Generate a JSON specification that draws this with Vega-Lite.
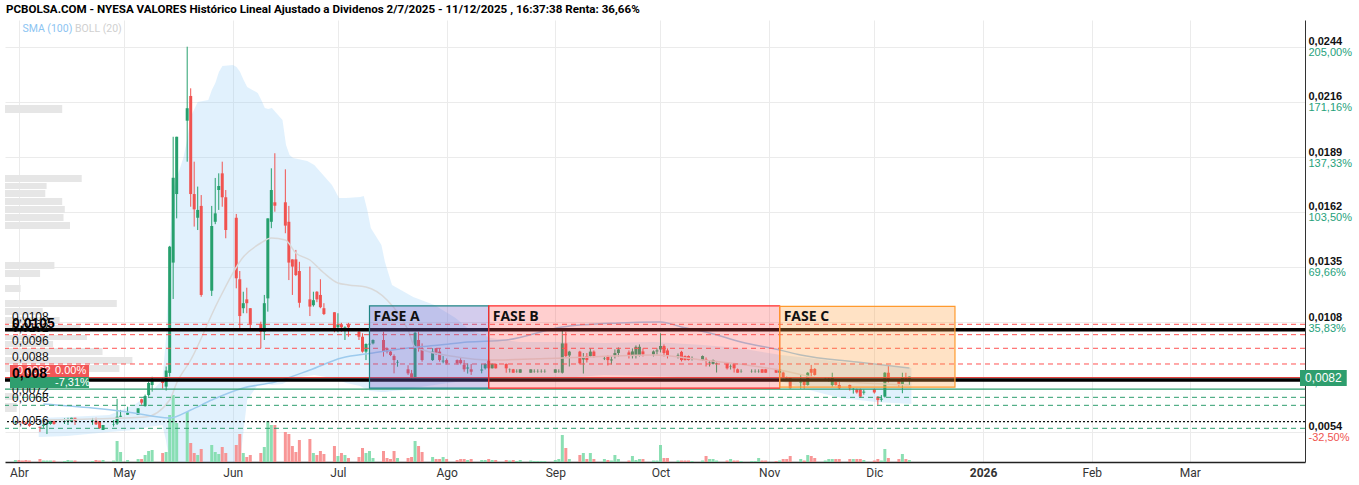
{
"$schema": "https://vega.github.io/schema/vega-lite/v6.json",
"width": 1300, "height": 442,
"autosize": {"type": "none"},
"padding": {"left": 5, "top": 20, "right": 54, "bottom": 23},
"background": "white",
"title": {"text": "PCBOLSA.COM - NYESA VALORES Histórico Lineal Ajustado a Dividenos 2/7/2025 - 11/12/2025 , 16:37:38 Renta: 36,66%", "anchor": "start", "frame": "group", "offset": 4, "fontSize": 11.6, "fontWeight": "bold", "font": "Roboto", "color": "#000", "dx": 1},
"config": {"view": {"stroke": null}},
"datasets": {
"candles": [
{"d":"2025-03-31","o":0.00592,"h":0.006,"l":0.00585,"c":0.00595,"v":200},
{"d":"2025-04-01","o":0.00595,"h":0.006,"l":0.00588,"c":0.00592,"v":200},
{"d":"2025-04-02","o":0.00592,"h":0.00598,"l":0.00585,"c":0.0059,"v":150},
{"d":"2025-04-03","o":0.0059,"h":0.00596,"l":0.0058,"c":0.00585,"v":200},
{"d":"2025-04-04","o":0.00585,"h":0.0059,"l":0.0057,"c":0.00575,"v":150},
{"d":"2025-04-07","o":0.0057,"h":0.0057,"l":0.00545,"c":0.00565,"v":300},
{"d":"2025-04-08","o":0.00575,"h":0.00585,"l":0.00565,"c":0.0058,"v":150},
{"d":"2025-04-09","o":0.00585,"h":0.00592,"l":0.00534,"c":0.0059,"v":150},
{"d":"2025-04-10","o":0.00584,"h":0.006,"l":0.0058,"c":0.00599,"v":150},
{"d":"2025-04-11","o":0.00599,"h":0.006,"l":0.0058,"c":0.00584,"v":150},
{"d":"2025-04-14","o":0.00595,"h":0.00612,"l":0.00584,"c":0.00599,"v":100},
{"d":"2025-04-15","o":0.00599,"h":0.00615,"l":0.00579,"c":0.00604,"v":200},
{"d":"2025-04-16","o":0.00595,"h":0.00615,"l":0.00595,"c":0.00615,"v":150},
{"d":"2025-04-17","o":0.00615,"h":0.00615,"l":0.00579,"c":0.006,"v":150},
{"d":"2025-04-22","o":0.006,"h":0.00614,"l":0.0058,"c":0.00603,"v":100},
{"d":"2025-04-23","o":0.006,"h":0.00615,"l":0.00579,"c":0.00582,"v":200},
{"d":"2025-04-24","o":0.00599,"h":0.00599,"l":0.0056,"c":0.00563,"v":150},
{"d":"2025-04-25","o":0.00554,"h":0.00579,"l":0.00554,"c":0.00579,"v":200},
{"d":"2025-04-28","o":0.0058,"h":0.00604,"l":0.00571,"c":0.00582,"v":150},
{"d":"2025-04-29","o":0.00586,"h":0.00709,"l":0.00579,"c":0.0062,"v":2100},
{"d":"2025-04-30","o":0.0062,"h":0.00654,"l":0.00618,"c":0.00625,"v":1000},
{"d":"2025-05-02","o":0.0063,"h":0.0067,"l":0.00629,"c":0.0064,"v":200},
{"d":"2025-05-05","o":0.00629,"h":0.00662,"l":0.00629,"c":0.00662,"v":300},
{"d":"2025-05-06","o":0.00707,"h":0.0071,"l":0.0068,"c":0.0069,"v":300},
{"d":"2025-05-07","o":0.00673,"h":0.0073,"l":0.0067,"c":0.00723,"v":700},
{"d":"2025-05-08","o":0.00728,"h":0.00795,"l":0.0072,"c":0.00788,"v":1100},
{"d":"2025-05-09","o":0.00778,"h":0.00819,"l":0.00745,"c":0.00798,"v":1200},
{"d":"2025-05-12","o":0.00803,"h":0.0081,"l":0.0076,"c":0.00788,"v":900},
{"d":"2025-05-13","o":0.0077,"h":0.0087,"l":0.0075,"c":0.0085,"v":1000},
{"d":"2025-05-14","o":0.00838,"h":0.0147,"l":0.0082,"c":0.01466,"v":4700},
{"d":"2025-05-15","o":0.01387,"h":0.02013,"l":0.01206,"c":0.01809,"v":6700},
{"d":"2025-05-16","o":0.01728,"h":0.02013,"l":0.01607,"c":0.02013,"v":3900},
{"d":"2025-05-19","o":0.02093,"h":0.02461,"l":0.01889,"c":0.02155,"v":5000},
{"d":"2025-05-20","o":0.02216,"h":0.02254,"l":0.01665,"c":0.01728,"v":1900},
{"d":"2025-05-21","o":0.01728,"h":0.01889,"l":0.01566,"c":0.01652,"v":900},
{"d":"2025-05-22","o":0.0161,"h":0.01765,"l":0.01549,"c":0.01649,"v":700},
{"d":"2025-05-23","o":0.01669,"h":0.01723,"l":0.01217,"c":0.01226,"v":1300},
{"d":"2025-05-26","o":0.01247,"h":0.01669,"l":0.01221,"c":0.01569,"v":1700},
{"d":"2025-05-27","o":0.0159,"h":0.01808,"l":0.01578,"c":0.01632,"v":1000},
{"d":"2025-05-28","o":0.01748,"h":0.01831,"l":0.01649,"c":0.01768,"v":800},
{"d":"2025-05-29","o":0.01831,"h":0.01889,"l":0.01665,"c":0.01712,"v":1500},
{"d":"2025-05-30","o":0.01712,"h":0.01748,"l":0.01508,"c":0.01549,"v":900},
{"d":"2025-06-02","o":0.0161,"h":0.01629,"l":0.01259,"c":0.01309,"v":1700},
{"d":"2025-06-03","o":0.01304,"h":0.01345,"l":0.01052,"c":0.01121,"v":2800},
{"d":"2025-06-04","o":0.0116,"h":0.01242,"l":0.01135,"c":0.01185,"v":900},
{"d":"2025-06-05","o":0.01204,"h":0.01262,"l":0.01135,"c":0.01185,"v":500},
{"d":"2025-06-06","o":0.0116,"h":0.0116,"l":0.01052,"c":0.01082,"v":700},
{"d":"2025-06-09","o":0.01082,"h":0.01093,"l":0.00961,"c":0.01043,"v":900},
{"d":"2025-06-10","o":0.01043,"h":0.01226,"l":0.01002,"c":0.01185,"v":1500},
{"d":"2025-06-11","o":0.01209,"h":0.01607,"l":0.01143,"c":0.01607,"v":4100},
{"d":"2025-06-12","o":0.0159,"h":0.01856,"l":0.01558,"c":0.01748,"v":3700},
{"d":"2025-06-13","o":0.01687,"h":0.01931,"l":0.0164,"c":0.0167,"v":3700},
{"d":"2025-06-16","o":0.01687,"h":0.01851,"l":0.01533,"c":0.01571,"v":3000},
{"d":"2025-06-17","o":0.0159,"h":0.01669,"l":0.013,"c":0.01387,"v":2800},
{"d":"2025-06-18","o":0.01403,"h":0.01403,"l":0.01226,"c":0.01367,"v":1600},
{"d":"2025-06-19","o":0.01403,"h":0.0145,"l":0.0132,"c":0.01325,"v":1000},
{"d":"2025-06-20","o":0.01345,"h":0.01391,"l":0.01163,"c":0.01187,"v":2200},
{"d":"2025-06-23","o":0.01204,"h":0.01367,"l":0.01121,"c":0.01168,"v":2300},
{"d":"2025-06-24","o":0.01175,"h":0.01242,"l":0.01168,"c":0.012,"v":900},
{"d":"2025-06-25","o":0.01242,"h":0.01245,"l":0.0119,"c":0.01204,"v":700},
{"d":"2025-06-26","o":0.01226,"h":0.01304,"l":0.0116,"c":0.01165,"v":1100},
{"d":"2025-06-27","o":0.0116,"h":0.01185,"l":0.01126,"c":0.01131,"v":800},
{"d":"2025-06-30","o":0.0114,"h":0.0114,"l":0.0104,"c":0.01055,"v":1600},
{"d":"2025-07-01","o":0.01065,"h":0.01135,"l":0.0104,"c":0.0108,"v":600},
{"d":"2025-07-02","o":0.0108,"h":0.01087,"l":0.01043,"c":0.01065,"v":900},
{"d":"2025-07-03","o":0.01063,"h":0.0107,"l":0.01002,"c":0.01066,"v":700},
{"d":"2025-07-04","o":0.0108,"h":0.01087,"l":0.01018,"c":0.01065,"v":400},
{"d":"2025-07-07","o":0.01043,"h":0.01057,"l":0.01002,"c":0.01018,"v":500},
{"d":"2025-07-08","o":0.01018,"h":0.01035,"l":0.00939,"c":0.00944,"v":1400},
{"d":"2025-07-09","o":0.00944,"h":0.00985,"l":0.00902,"c":0.00982,"v":900},
{"d":"2025-07-10","o":0.0098,"h":0.0099,"l":0.0097,"c":0.00983,"v":1100},
{"d":"2025-07-11","o":0.00985,"h":0.01005,"l":0.0098,"c":0.01002,"v":400},
{"d":"2025-07-14","o":0.01002,"h":0.01043,"l":0.00919,"c":0.00944,"v":1100},
{"d":"2025-07-15","o":0.00961,"h":0.00965,"l":0.00935,"c":0.00944,"v":400},
{"d":"2025-07-16","o":0.00944,"h":0.0095,"l":0.00922,"c":0.00927,"v":300},
{"d":"2025-07-17","o":0.00922,"h":0.0093,"l":0.00836,"c":0.00902,"v":1100},
{"d":"2025-07-18","o":0.0089,"h":0.00902,"l":0.00869,"c":0.00893,"v":400},
{"d":"2025-07-21","o":0.00856,"h":0.00876,"l":0.00828,"c":0.00836,"v":400},
{"d":"2025-07-22","o":0.00836,"h":0.00853,"l":0.00811,"c":0.00816,"v":500},
{"d":"2025-07-23","o":0.00816,"h":0.01043,"l":0.00811,"c":0.01038,"v":2100},
{"d":"2025-07-24","o":0.01002,"h":0.01043,"l":0.00944,"c":0.00961,"v":1600},
{"d":"2025-07-25","o":0.00961,"h":0.00985,"l":0.00894,"c":0.00902,"v":1000},
{"d":"2025-07-28","o":0.00902,"h":0.00961,"l":0.00898,"c":0.00944,"v":500},
{"d":"2025-07-29","o":0.00961,"h":0.00962,"l":0.00927,"c":0.00936,"v":300},
{"d":"2025-07-30","o":0.00944,"h":0.00961,"l":0.00894,"c":0.00902,"v":300},
{"d":"2025-07-31","o":0.00895,"h":0.00922,"l":0.00886,"c":0.00899,"v":500},
{"d":"2025-08-01","o":0.00902,"h":0.0091,"l":0.0088,"c":0.00886,"v":300},
{"d":"2025-08-04","o":0.00902,"h":0.00905,"l":0.0088,"c":0.00886,"v":200},
{"d":"2025-08-05","o":0.00902,"h":0.00912,"l":0.0088,"c":0.00886,"v":300},
{"d":"2025-08-06","o":0.00878,"h":0.00902,"l":0.00844,"c":0.00856,"v":300},
{"d":"2025-08-07","o":0.0086,"h":0.00885,"l":0.00835,"c":0.00865,"v":200},
{"d":"2025-08-08","o":0.00856,"h":0.00883,"l":0.00828,"c":0.00844,"v":300},
{"d":"2025-08-11","o":0.0085,"h":0.00883,"l":0.00836,"c":0.00855,"v":200},
{"d":"2025-08-12","o":0.00861,"h":0.00885,"l":0.00855,"c":0.00883,"v":200},
{"d":"2025-08-13","o":0.00902,"h":0.00905,"l":0.00855,"c":0.00861,"v":300},
{"d":"2025-08-14","o":0.00861,"h":0.00885,"l":0.0086,"c":0.00883,"v":200},
{"d":"2025-08-15","o":0.00883,"h":0.00885,"l":0.0086,"c":0.00861,"v":200},
{"d":"2025-08-18","o":0.00883,"h":0.00885,"l":0.00839,"c":0.00861,"v":200},
{"d":"2025-08-19","o":0.00856,"h":0.0086,"l":0.0084,"c":0.00857,"v":150},
{"d":"2025-08-20","o":0.00856,"h":0.00858,"l":0.00839,"c":0.00839,"v":200},
{"d":"2025-08-21","o":0.00845,"h":0.00856,"l":0.00839,"c":0.00846,"v":100},
{"d":"2025-08-22","o":0.00839,"h":0.00856,"l":0.00839,"c":0.00856,"v":200},
{"d":"2025-08-25","o":0.00839,"h":0.00856,"l":0.00839,"c":0.00856,"v":150},
{"d":"2025-08-26","o":0.00845,"h":0.00856,"l":0.00839,"c":0.00846,"v":100},
{"d":"2025-08-27","o":0.00845,"h":0.00856,"l":0.00839,"c":0.00846,"v":100},
{"d":"2025-08-28","o":0.00845,"h":0.00856,"l":0.00839,"c":0.00846,"v":100},
{"d":"2025-08-29","o":0.00845,"h":0.00856,"l":0.00839,"c":0.00846,"v":100},
{"d":"2025-09-01","o":0.00839,"h":0.00856,"l":0.00839,"c":0.00856,"v":200},
{"d":"2025-09-02","o":0.00845,"h":0.00856,"l":0.00839,"c":0.00846,"v":300},
{"d":"2025-09-03","o":0.00839,"h":0.01047,"l":0.00835,"c":0.00985,"v":2700},
{"d":"2025-09-04","o":0.00985,"h":0.01043,"l":0.00917,"c":0.00922,"v":1400},
{"d":"2025-09-05","o":0.00925,"h":0.00948,"l":0.0087,"c":0.00944,"v":300},
{"d":"2025-09-08","o":0.00944,"h":0.00948,"l":0.0088,"c":0.00886,"v":700},
{"d":"2025-09-09","o":0.00905,"h":0.00937,"l":0.00835,"c":0.00912,"v":900},
{"d":"2025-09-10","o":0.00922,"h":0.00937,"l":0.0089,"c":0.00902,"v":300},
{"d":"2025-09-11","o":0.00922,"h":0.0096,"l":0.00917,"c":0.00944,"v":900},
{"d":"2025-09-12","o":0.00944,"h":0.0095,"l":0.00915,"c":0.00922,"v":300},
{"d":"2025-09-15","o":0.0091,"h":0.00922,"l":0.00902,"c":0.00912,"v":300},
{"d":"2025-09-16","o":0.00922,"h":0.00925,"l":0.00875,"c":0.00902,"v":200},
{"d":"2025-09-17","o":0.009,"h":0.00922,"l":0.0088,"c":0.00905,"v":150},
{"d":"2025-09-18","o":0.00925,"h":0.00955,"l":0.0091,"c":0.00937,"v":700},
{"d":"2025-09-19","o":0.00937,"h":0.00965,"l":0.0092,"c":0.00955,"v":300},
{"d":"2025-09-22","o":0.0094,"h":0.0095,"l":0.0091,"c":0.00925,"v":150},
{"d":"2025-09-23","o":0.00922,"h":0.0096,"l":0.0091,"c":0.00945,"v":600},
{"d":"2025-09-24","o":0.00922,"h":0.00975,"l":0.0091,"c":0.00968,"v":200},
{"d":"2025-09-25","o":0.00925,"h":0.0098,"l":0.0092,"c":0.00968,"v":300},
{"d":"2025-09-26","o":0.00945,"h":0.0096,"l":0.0092,"c":0.0093,"v":300},
{"d":"2025-09-29","o":0.0093,"h":0.0095,"l":0.0092,"c":0.00945,"v":150},
{"d":"2025-09-30","o":0.00945,"h":0.0096,"l":0.0093,"c":0.0095,"v":150},
{"d":"2025-10-01","o":0.00955,"h":0.01035,"l":0.0094,"c":0.00972,"v":1700},
{"d":"2025-10-02","o":0.00972,"h":0.0098,"l":0.0092,"c":0.00937,"v":400},
{"d":"2025-10-03","o":0.0095,"h":0.0096,"l":0.0091,"c":0.00925,"v":400},
{"d":"2025-10-06","o":0.00922,"h":0.00935,"l":0.0091,"c":0.00925,"v":150},
{"d":"2025-10-07","o":0.00943,"h":0.00948,"l":0.00895,"c":0.00902,"v":150},
{"d":"2025-10-08","o":0.00922,"h":0.00925,"l":0.009,"c":0.00902,"v":150},
{"d":"2025-10-09","o":0.00922,"h":0.00925,"l":0.009,"c":0.00902,"v":150},
{"d":"2025-10-10","o":0.0091,"h":0.0092,"l":0.009,"c":0.00912,"v":100},
{"d":"2025-10-13","o":0.00902,"h":0.00925,"l":0.009,"c":0.00922,"v":150},
{"d":"2025-10-14","o":0.00905,"h":0.00915,"l":0.0087,"c":0.00902,"v":600},
{"d":"2025-10-15","o":0.0089,"h":0.00902,"l":0.0087,"c":0.00892,"v":300},
{"d":"2025-10-16","o":0.00883,"h":0.00905,"l":0.0088,"c":0.00902,"v":300},
{"d":"2025-10-17","o":0.00885,"h":0.0089,"l":0.0084,"c":0.00887,"v":150},
{"d":"2025-10-20","o":0.00883,"h":0.00885,"l":0.00855,"c":0.00861,"v":150},
{"d":"2025-10-21","o":0.0087,"h":0.0088,"l":0.00855,"c":0.00872,"v":300},
{"d":"2025-10-22","o":0.00883,"h":0.00885,"l":0.0084,"c":0.00861,"v":150},
{"d":"2025-10-23","o":0.00856,"h":0.0086,"l":0.00839,"c":0.00839,"v":150},
{"d":"2025-10-24","o":0.00845,"h":0.00856,"l":0.00839,"c":0.00846,"v":100},
{"d":"2025-10-27","o":0.00845,"h":0.00856,"l":0.00839,"c":0.00846,"v":100},
{"d":"2025-10-28","o":0.00845,"h":0.00856,"l":0.00839,"c":0.00846,"v":100},
{"d":"2025-10-29","o":0.00845,"h":0.00856,"l":0.00839,"c":0.00846,"v":400},
{"d":"2025-10-30","o":0.00856,"h":0.00858,"l":0.00839,"c":0.00839,"v":150},
{"d":"2025-10-31","o":0.00856,"h":0.00858,"l":0.00839,"c":0.00839,"v":150},
{"d":"2025-11-03","o":0.00856,"h":0.00858,"l":0.00839,"c":0.00839,"v":100},
{"d":"2025-11-04","o":0.00839,"h":0.00858,"l":0.00839,"c":0.00856,"v":150},
{"d":"2025-11-05","o":0.0084,"h":0.00845,"l":0.0081,"c":0.00815,"v":300},
{"d":"2025-11-06","o":0.00815,"h":0.0082,"l":0.008,"c":0.0081,"v":300},
{"d":"2025-11-07","o":0.00816,"h":0.00818,"l":0.0076,"c":0.00762,"v":600},
{"d":"2025-11-10","o":0.0079,"h":0.00828,"l":0.0076,"c":0.00795,"v":300},
{"d":"2025-11-11","o":0.00803,"h":0.00806,"l":0.0076,"c":0.00778,"v":150},
{"d":"2025-11-12","o":0.00778,"h":0.00842,"l":0.00775,"c":0.00839,"v":700},
{"d":"2025-11-13","o":0.00858,"h":0.00878,"l":0.0082,"c":0.00839,"v":600},
{"d":"2025-11-14","o":0.00858,"h":0.00862,"l":0.00825,"c":0.00828,"v":400},
{"d":"2025-11-17","o":0.0081,"h":0.00816,"l":0.00803,"c":0.00812,"v":150},
{"d":"2025-11-18","o":0.00808,"h":0.00816,"l":0.00795,"c":0.0081,"v":300},
{"d":"2025-11-19","o":0.00778,"h":0.00839,"l":0.0077,"c":0.00816,"v":300},
{"d":"2025-11-20","o":0.00794,"h":0.00796,"l":0.00775,"c":0.00778,"v":300},
{"d":"2025-11-21","o":0.00778,"h":0.00794,"l":0.00757,"c":0.00762,"v":300},
{"d":"2025-11-24","o":0.00778,"h":0.0078,"l":0.0075,"c":0.00762,"v":300},
{"d":"2025-11-25","o":0.00757,"h":0.00762,"l":0.00735,"c":0.00759,"v":300},
{"d":"2025-11-26","o":0.00757,"h":0.0076,"l":0.00735,"c":0.00741,"v":300},
{"d":"2025-11-27","o":0.00757,"h":0.0076,"l":0.00715,"c":0.0072,"v":300},
{"d":"2025-11-28","o":0.0074,"h":0.00755,"l":0.0073,"c":0.00745,"v":200},
{"d":"2025-12-01","o":0.00757,"h":0.0076,"l":0.00735,"c":0.00741,"v":150},
{"d":"2025-12-02","o":0.0072,"h":0.00722,"l":0.00679,"c":0.00703,"v":300},
{"d":"2025-12-03","o":0.00705,"h":0.00728,"l":0.00695,"c":0.0071,"v":150},
{"d":"2025-12-04","o":0.0072,"h":0.00842,"l":0.00715,"c":0.00839,"v":1300},
{"d":"2025-12-05","o":0.00839,"h":0.00878,"l":0.0079,"c":0.00803,"v":400},
{"d":"2025-12-08","o":0.008,"h":0.00805,"l":0.0077,"c":0.00778,"v":300},
{"d":"2025-12-09","o":0.00778,"h":0.00839,"l":0.00737,"c":0.00816,"v":800},
{"d":"2025-12-10","o":0.00816,"h":0.00839,"l":0.008,"c":0.00803,"v":300},
{"d":"2025-12-11","o":0.00803,"h":0.0082,"l":0.00778,"c":0.0082,"v":200}
],
"band": [
{"d":"2025-04-08","up":0.006138,"lo":0.005193},
{"d":"2025-04-16","up":0.006188,"lo":0.005243},
{"d":"2025-04-28","up":0.006287,"lo":0.005442},
{"d":"2025-05-05","up":0.006785,"lo":0.005541},
{"d":"2025-05-09","up":0.007283,"lo":0.00569},
{"d":"2025-05-13","up":0.008029,"lo":0.00579},
{"d":"2025-05-14","up":0.010019,"lo":0.005044},
{"d":"2025-05-15","up":0.014496,"lo":0.00395},
{"d":"2025-05-16","up":0.017481,"lo":0.00395},
{"d":"2025-05-19","up":0.019123,"lo":0.00395},
{"d":"2025-05-20","up":0.019969,"lo":0.00395},
{"d":"2025-05-21","up":0.021113,"lo":0.00395},
{"d":"2025-05-23","up":0.021859,"lo":0.00395},
{"d":"2025-05-26","up":0.021959,"lo":0.00395},
{"d":"2025-05-27","up":0.022456,"lo":0.00395},
{"d":"2025-05-28","up":0.022805,"lo":0.00395},
{"d":"2025-05-29","up":0.023352,"lo":0.00395},
{"d":"2025-05-30","up":0.02365,"lo":0.00395},
{"d":"2025-06-02","up":0.0237,"lo":0.00395},
{"d":"2025-06-03","up":0.023601,"lo":0.00395},
{"d":"2025-06-04","up":0.023352,"lo":0.00395},
{"d":"2025-06-05","up":0.022954,"lo":0.00554},
{"d":"2025-06-06","up":0.022606,"lo":0.00703},
{"d":"2025-06-09","up":0.022307,"lo":0.00778},
{"d":"2025-06-10","up":0.021959,"lo":0.00783},
{"d":"2025-06-11","up":0.021561,"lo":0.007879},
{"d":"2025-06-12","up":0.021511,"lo":0.00783},
{"d":"2025-06-13","up":0.021561,"lo":0.00778},
{"d":"2025-06-16","up":0.020964,"lo":0.00783},
{"d":"2025-06-17","up":0.01972,"lo":0.007929},
{"d":"2025-06-18","up":0.019223,"lo":0.008029},
{"d":"2025-06-19","up":0.019073,"lo":0.008128},
{"d":"2025-06-23","up":0.018924,"lo":0.008228},
{"d":"2025-06-25","up":0.018725,"lo":0.008278},
{"d":"2025-06-30","up":0.01773,"lo":0.008128},
{"d":"2025-07-02","up":0.017083,"lo":0.008029},
{"d":"2025-07-04","up":0.017083,"lo":0.007879},
{"d":"2025-07-08","up":0.017133,"lo":0.00773},
{"d":"2025-07-09","up":0.017183,"lo":0.007631},
{"d":"2025-07-10","up":0.016487,"lo":0.007531},
{"d":"2025-07-11","up":0.015591,"lo":0.007481},
{"d":"2025-07-14","up":0.014745,"lo":0.007432},
{"d":"2025-07-15","up":0.013899,"lo":0.007432},
{"d":"2025-07-17","up":0.012755,"lo":0.007481},
{"d":"2025-07-21","up":0.012357,"lo":0.007531},
{"d":"2025-07-23","up":0.012158,"lo":0.007631},
{"d":"2025-07-29","up":0.01176,"lo":0.00778},
{"d":"2025-08-04","up":0.011113,"lo":0.007929},
{"d":"2025-08-08","up":0.010516,"lo":0.008029},
{"d":"2025-08-14","up":0.010118,"lo":0.008128},
{"d":"2025-08-22","up":0.009919,"lo":0.008128},
{"d":"2025-09-03","up":0.009919,"lo":0.008128},
{"d":"2025-09-15","up":0.009869,"lo":0.008278},
{"d":"2025-09-29","up":0.009919,"lo":0.008228},
{"d":"2025-10-13","up":0.00977,"lo":0.008128},
{"d":"2025-10-23","up":0.009621,"lo":0.008128},
{"d":"2025-11-04","up":0.009272,"lo":0.007979},
{"d":"2025-11-12","up":0.009123,"lo":0.007531},
{"d":"2025-11-21","up":0.008924,"lo":0.007133},
{"d":"2025-12-01","up":0.008775,"lo":0.006934},
{"d":"2025-12-11","up":0.008626,"lo":0.006835}
],
"mid": [
{"d":"2025-04-08","p":0.006038},{"d":"2025-05-07","p":0.006188},{"d":"2025-05-14","p":0.007034},{"d":"2025-05-16","p":0.00788},{"d":"2025-05-20","p":0.009024},{"d":"2025-05-28","p":0.012009},{"d":"2025-06-04","p":0.014148},{"d":"2025-06-09","p":0.014845},{"d":"2025-06-12","p":0.015094},{"d":"2025-06-16","p":0.014994},{"d":"2025-06-19","p":0.014347},{"d":"2025-06-23","p":0.013999},{"d":"2025-06-27","p":0.013352},{"d":"2025-07-01","p":0.012854},{"d":"2025-07-04","p":0.012755},{"d":"2025-07-09","p":0.012656},{"d":"2025-07-15","p":0.012009},{"d":"2025-07-21","p":0.010516},{"d":"2025-07-23","p":0.00967},{"d":"2025-08-04","p":0.009173},{"d":"2025-08-13","p":0.009024},{"d":"2025-09-03","p":0.009123},{"d":"2025-09-29","p":0.009272},{"d":"2025-10-13","p":0.009024},{"d":"2025-11-04","p":0.008526},{"d":"2025-11-18","p":0.008029},{"d":"2025-12-11","p":0.00778}
],
"sma": [
{"d":"2025-04-08","p":0.006835},{"d":"2025-04-22","p":0.006636},{"d":"2025-05-02","p":0.006437},{"d":"2025-05-14","p":0.006138},{"d":"2025-05-20","p":0.006536},{"d":"2025-05-26","p":0.007034},{"d":"2025-06-04","p":0.007631},{"d":"2025-06-13","p":0.007929},{"d":"2025-06-23","p":0.008526},{"d":"2025-07-02","p":0.009123},{"d":"2025-07-11","p":0.009372},{"d":"2025-07-21","p":0.009621},{"d":"2025-07-30","p":0.00977},{"d":"2025-08-07","p":0.009919},{"d":"2025-08-18","p":0.010019},{"d":"2025-09-03","p":0.010666},{"d":"2025-09-19","p":0.010865},{"d":"2025-10-01","p":0.010914},{"d":"2025-10-07","p":0.010666},{"d":"2025-10-15","p":0.010367},{"d":"2025-10-24","p":0.009919},{"d":"2025-11-04","p":0.009522},{"d":"2025-11-10","p":0.009272},{"d":"2025-11-26","p":0.008924},{"d":"2025-12-11","p":0.008626}
],
"profile": [
{"lo":0.021312,"hi":0.02171,"vp":4.4},
{"lo":0.017879,"hi":0.018228,"vp":5.9},
{"lo":0.017531,"hi":0.01783,"vp":3.2},
{"lo":0.017133,"hi":0.017481,"vp":3.1},
{"lo":0.016735,"hi":0.017083,"vp":4.4},
{"lo":0.016337,"hi":0.016685,"vp":4.6},
{"lo":0.015939,"hi":0.016287,"vp":4.5},
{"lo":0.015541,"hi":0.015889,"vp":5.0},
{"lo":0.013551,"hi":0.013899,"vp":3.8},
{"lo":0.013153,"hi":0.013501,"vp":2.7},
{"lo":0.012407,"hi":0.012755,"vp":1.2},
{"lo":0.011661,"hi":0.012009,"vp":8.6},
{"lo":0.011262,"hi":0.011611,"vp":2.9},
{"lo":0.010815,"hi":0.011163,"vp":4.2},
{"lo":0.010417,"hi":0.010765,"vp":5.8},
{"lo":0.010019,"hi":0.010267,"vp":6.3},
{"lo":0.00967,"hi":0.009969,"vp":3.7},
{"lo":0.009272,"hi":0.009621,"vp":7.5},
{"lo":0.008825,"hi":0.009173,"vp":9.8},
{"lo":0.008427,"hi":0.008775,"vp":8.8},
{"lo":0.007034,"hi":0.007382,"vp":1.0},
{"lo":0.006436,"hi":0.006884,"vp":0.9}
],
"levels": [
{"p":0.0108,"kind":"res"},{"p":0.010283,"kind":"res"},{"p":0.009606,"kind":"res"},{"p":0.008825,"kind":"res"},
{"p":0.010532,"kind":"key"},{"p":0.00803,"kind":"key"},
{"p":0.00815,"kind":"last"},{"p":0.00757,"kind":"stop"},
{"p":0.007167,"kind":"sup"},{"p":0.006769,"kind":"sup"},{"p":0.005625,"kind":"sup"},
{"p":0.00596,"kind":"dot"}
],
"lvlLabels": [
{"p":0.0108,"t":"0,0108"},{"p":0.010283,"t":"0,0102"},{"p":0.009606,"t":"0,0096"},{"p":0.008825,"t":"0,0088"},
{"p":0.007167,"t":"0,0072"},{"p":0.006769,"t":"0,0068"},{"p":0.005625,"t":"0,0056"}
],
"keyLabels": [
{"p":0.010532,"t":"0,0105"},{"p":0.00803,"t":"0,008"}
],
"phases": [
{"fase":"FASE A","s":"2025-07-10","e":"2025-08-13","lo":0.00762,"hi":0.01172},
{"fase":"FASE B","s":"2025-08-13","e":"2025-11-04","lo":0.00762,"hi":0.01172},
{"fase":"FASE C","s":"2025-11-04","e":"2025-12-24","lo":0.00767,"hi":0.01169}
],
"tags": [
{"kind":"last","a":"0,0082","b":"0.00%","lo":0.008179,"hi":0.008775},
{"kind":"stop","a":"","b":"-7,31%","lo":0.007632,"hi":0.008179}
],
"lastTag": [
{"t":"0,0082","lo":0.007731,"hi":0.008527}
]
},
"layer": [
{
"data": {"name": "profile"},
"mark": {"type": "rect", "color": "#e6e6e6"},
"encoding": {
"x": {"field": "vp", "type": "quantitative", "scale": {"domain": [0, 100], "nice": false, "zero": false}, "axis": null},
"x2": {"datum": 0},
"y": {"field": "lo", "type": "quantitative", "scale": {"domain": [0.003949, 0.025939], "nice": false, "zero": false}, "axis": null},
"y2": {"field": "hi"}
}
},
{
"data": {"name": "band"},
"mark": {"type": "area", "color": "#90caf9", "opacity": 0.27, "clip": true},
"encoding": {
"x": {"field": "d", "type": "temporal", "scale": {"domain": [{"year":2025,"month":3,"date":29,"hours":11,"utc":true},{"year":2026,"month":4,"date":1,"hours":10,"utc":true}], "nice": false}, "axis": null},
"y": {"field": "up", "type": "quantitative", "scale": {"domain": [0.003949, 0.025939], "nice": false, "zero": false}, "axis": null},
"y2": {"field": "lo"}
}
},
{
"data": {"name": "candles"},
"mark": {"type": "bar", "size": 3, "opacity": 0.9},
"encoding": {
"x": {"field": "d", "type": "temporal", "scale": {"domain": [{"year":2025,"month":3,"date":29,"hours":11,"utc":true},{"year":2026,"month":4,"date":1,"hours":10,"utc":true}], "nice": false}, "axis": null},
"y": {"field": "v", "type": "quantitative", "scale": {"domain": [0, 44200], "nice": false}, "axis": null},
"color": {"condition": {"test": "datum.c >= datum.o", "value": "#7edbab"}, "value": "#f78b8b"}
}
},
{
"resolve": {"axis": {"y": "independent"}, "scale": {"color": "independent", "fill": "independent", "stroke": "independent", "strokeDash": "independent", "strokeWidth": "independent", "fillOpacity": "independent"}},
"layer": [
{
"data": {"name": "candles"},
"mark": {"type": "rule", "strokeWidth": 1},
"encoding": {
"x": {"field": "d", "type": "temporal", "scale": {"domain": [{"year":2025,"month":3,"date":29,"hours":11,"utc":true},{"year":2026,"month":4,"date":1,"hours":10,"utc":true}], "nice": false},
 "axis": {"title": null, "orient": "bottom", "values": [{"year":2025,"month":4,"date":1,"utc":true},{"year":2025,"month":5,"date":1,"utc":true},{"year":2025,"month":6,"date":1,"utc":true},{"year":2025,"month":7,"date":1,"utc":true},{"year":2025,"month":8,"date":1,"utc":true},{"year":2025,"month":9,"date":1,"utc":true},{"year":2025,"month":10,"date":1,"utc":true},{"year":2025,"month":11,"date":1,"utc":true},{"year":2025,"month":12,"date":1,"utc":true},{"year":2026,"month":1,"date":1,"utc":true},{"year":2026,"month":2,"date":1,"utc":true},{"year":2026,"month":3,"date":1,"utc":true}],
 "labelExpr": "utcmonth(datum.value) == 0 ? '' + utcyear(datum.value) : ['Ene','Feb','Mar','Abr','May','Jun','Jul','Ago','Sep','Oct','Nov','Dic'][utcmonth(datum.value)]",
 "grid": true, "gridColor": "#ebebeb", "domainColor": "#222", "domainWidth": 1.5, "ticks": false, "labelPadding": 5, "labelFontSize": 12, "labelColor": "#333", "labelFont": "Roboto",
 "labelFontWeight": {"condition": {"test": "utcmonth(datum.value) == 0", "value": "bold"}, "value": "normal"}}},
"y": {"field": "l", "type": "quantitative", "scale": {"domain": [0.003949, 0.025939], "nice": false, "zero": false},
 "axis": {"title": null, "orient": "right", "values": [0.005442, 0.008178, 0.010914, 0.013651, 0.016387, 0.019123, 0.02186, 0.024596],
 "labelExpr": "datum.value < 0.007 ? '0,0054' : datum.value < 0.0095 ? '' : datum.value < 0.0122 ? '0,0108' : datum.value < 0.015 ? '0,0135' : datum.value < 0.0177 ? '0,0162' : datum.value < 0.0205 ? '0,0189' : datum.value < 0.023 ? '0,0216' : '0,0244'",
 "grid": true, "gridColor": "#ebebeb", "domain": true, "domainColor": "#333", "ticks": false, "labelBaseline": "bottom", "labelPadding": 3, "labelFontSize": 11, "labelFontWeight": "bold", "labelColor": "#111", "labelFont": "Liberation Sans", "labelOverlap": false}},
"y2": {"field": "h"},
"color": {"condition": {"test": "datum.c >= datum.o", "value": "#26a06d"}, "value": "#f05350"}
}
},
{
"data": {"name": "candles"},
"mark": {"type": "bar", "size": 3},
"encoding": {
"x": {"field": "d", "type": "temporal", "title": null, "scale": {"domain": [{"year":2025,"month":3,"date":29,"hours":11,"utc":true},{"year":2026,"month":4,"date":1,"hours":10,"utc":true}], "nice": false}},
"y": {"field": "o", "type": "quantitative", "scale": {"domain": [0.003949, 0.025939], "nice": false, "zero": false},
 "axis": {"title": null, "orient": "right", "values": [0.005442, 0.008178, 0.010914, 0.013651, 0.016387, 0.019123, 0.02186, 0.024596],
 "labelExpr": "datum.value < 0.007 ? '-32,50%' : datum.value < 0.0095 ? '2,00%' : datum.value < 0.0122 ? '35,83%' : datum.value < 0.015 ? '69,66%' : datum.value < 0.0177 ? '103,50%' : datum.value < 0.0205 ? '137,33%' : datum.value < 0.023 ? '171,16%' : '205,00%'",
 "grid": false, "domain": false, "ticks": false, "labelBaseline": "top", "labelPadding": 3, "labelFontSize": 11, "labelFont": "Liberation Sans", "labelOverlap": false,
 "labelColor": {"condition": {"test": "datum.value < 0.007", "value": "#ef5350"}, "value": "#26a17b"}}},
"y2": {"field": "c"},
"color": {"condition": {"test": "datum.c >= datum.o", "value": "#26a06d"}, "value": "#f05350"}
}
},
{
"data": {"name": "mid"},
"mark": {"type": "line", "color": "#d9d9d9", "strokeWidth": 1.5, "interpolate": "monotone"},
"encoding": {
"x": {"field": "d", "type": "temporal", "title": null, "scale": {"domain": [{"year":2025,"month":3,"date":29,"hours":11,"utc":true},{"year":2026,"month":4,"date":1,"hours":10,"utc":true}], "nice": false}},
"y": {"field": "p", "type": "quantitative", "axis": null, "scale": {"domain": [0.003949, 0.025939], "nice": false, "zero": false}}
}
},
{
"data": {"name": "sma"},
"mark": {"type": "line", "color": "#9dcbee", "strokeWidth": 1.5, "interpolate": "monotone"},
"encoding": {
"x": {"field": "d", "type": "temporal", "title": null, "scale": {"domain": [{"year":2025,"month":3,"date":29,"hours":11,"utc":true},{"year":2026,"month":4,"date":1,"hours":10,"utc":true}], "nice": false}},
"y": {"field": "p", "type": "quantitative", "axis": null, "scale": {"domain": [0.003949, 0.025939], "nice": false, "zero": false}}
}
},
{
"data": {"name": "levels"},
"transform": [{"filter": "datum.kind == 'res'"}],
"mark": {"type": "rule", "color": "#ff5252", "strokeWidth": 1, "strokeDash": [5, 4]},
"encoding": {"y": {"field": "p", "type": "quantitative", "axis": null, "scale": {"domain": [0.003949, 0.025939], "nice": false, "zero": false}}}
},
{
"data": {"name": "levels"},
"transform": [{"filter": "datum.kind == 'sup'"}],
"mark": {"type": "rule", "color": "#2e9e6e", "strokeWidth": 1, "strokeDash": [5, 4]},
"encoding": {"y": {"field": "p", "type": "quantitative", "axis": null, "scale": {"domain": [0.003949, 0.025939], "nice": false, "zero": false}}}
},
{
"data": {"name": "levels"},
"transform": [{"filter": "datum.kind == 'dot'"}],
"mark": {"type": "rule", "color": "#111111", "strokeWidth": 1.2, "strokeDash": [2, 2]},
"encoding": {"y": {"field": "p", "type": "quantitative", "axis": null, "scale": {"domain": [0.003949, 0.025939], "nice": false, "zero": false}}}
},
{
"data": {"name": "levels"},
"transform": [{"filter": "datum.kind == 'stop'"}],
"mark": {"type": "rule", "color": "#2e9e6e", "strokeWidth": 1.3},
"encoding": {"y": {"field": "p", "type": "quantitative", "axis": null, "scale": {"domain": [0.003949, 0.025939], "nice": false, "zero": false}}}
},
{
"data": {"name": "levels"},
"transform": [{"filter": "datum.kind == 'last'"}],
"mark": {"type": "rule", "color": "#e53935", "strokeWidth": 1},
"encoding": {"y": {"field": "p", "type": "quantitative", "axis": null, "scale": {"domain": [0.003949, 0.025939], "nice": false, "zero": false}}}
},
{
"data": {"name": "levels"},
"transform": [{"filter": "datum.kind == 'key'"}],
"mark": {"type": "rule", "color": "#000000", "strokeWidth": 3.5},
"encoding": {"y": {"field": "p", "type": "quantitative", "axis": null, "scale": {"domain": [0.003949, 0.025939], "nice": false, "zero": false}}}
},
{
"data": {"name": "phases"},
"mark": {"type": "rect", "strokeWidth": 1.2},
"encoding": {
"x": {"field": "s", "type": "temporal", "title": null, "scale": {"domain": [{"year":2025,"month":3,"date":29,"hours":11,"utc":true},{"year":2026,"month":4,"date":1,"hours":10,"utc":true}], "nice": false}},
"x2": {"field": "e"},
"y": {"field": "lo", "type": "quantitative", "axis": null, "scale": {"domain": [0.003949, 0.025939], "nice": false, "zero": false}},
"y2": {"field": "hi"},
"fill": {"field": "fase", "type": "nominal", "legend": null, "scale": {"domain": ["FASE A","FASE B","FASE C"], "range": ["#7a64c8","#ff4d4d","#ffa040"]}},
"fillOpacity": {"field": "fase", "type": "nominal", "legend": null, "scale": {"type": "ordinal", "domain": ["FASE A","FASE B","FASE C"], "range": [0.33,0.27,0.3]}},
"stroke": {"field": "fase", "type": "nominal", "legend": null, "scale": {"domain": ["FASE A","FASE B","FASE C"], "range": ["#1f8585","#ff2a2a","#ff9a2e"]}},
"strokeDash": {"field": "fase", "type": "nominal", "legend": null, "scale": {"domain": ["FASE A","FASE B","FASE C"], "range": [[4,3],[4,3],[1,0]]}}
}
},
{
"data": {"name": "phases"},
"mark": {"type": "text", "align": "left", "baseline": "top", "dx": 4, "dy": 4, "font": "Open Sans", "fontSize": 14, "fontWeight": "bold", "color": "#111"},
"encoding": {
"x": {"field": "s", "type": "temporal", "title": null, "scale": {"domain": [{"year":2025,"month":3,"date":29,"hours":11,"utc":true},{"year":2026,"month":4,"date":1,"hours":10,"utc":true}], "nice": false}},
"y": {"field": "hi", "type": "quantitative", "axis": null, "scale": {"domain": [0.003949, 0.025939], "nice": false, "zero": false}},
"text": {"field": "fase"}
}
},
{
"data": {"name": "lvlLabels"},
"mark": {"type": "text", "align": "left", "baseline": "alphabetic", "dx": 2, "dy": -3, "font": "Liberation Sans", "fontSize": 12, "color": "#111"},
"encoding": {
"x": {"datum": {"year":2025,"month":3,"date":29,"hours":11,"utc":true}, "type": "temporal", "scale": {"domain": [{"year":2025,"month":3,"date":29,"hours":11,"utc":true},{"year":2026,"month":4,"date":1,"hours":10,"utc":true}], "nice": false}},
"y": {"field": "p", "type": "quantitative", "axis": null, "scale": {"domain": [0.003949, 0.025939], "nice": false, "zero": false}},
"text": {"field": "t"}
}
},
{
"data": {"name": "tags"},
"mark": {"type": "rect"},
"encoding": {
"x": {"datum": {"year":2025,"month":3,"date":29,"hours":11,"utc":true}, "type": "temporal", "scale": {"domain": [{"year":2025,"month":3,"date":29,"hours":11,"utc":true},{"year":2026,"month":4,"date":1,"hours":10,"utc":true}], "nice": false}},
"x2": {"datum": {"year":2025,"month":4,"date":21,"utc":true}},
"y": {"field": "lo", "type": "quantitative", "axis": null, "scale": {"domain": [0.003949, 0.025939], "nice": false, "zero": false}},
"y2": {"field": "hi"},
"color": {"field": "kind", "type": "nominal", "legend": null, "scale": {"domain": ["last","stop"], "range": ["#f25656","#2e9e6e"]}}
}
},
{
"data": {"name": "tags"},
"mark": {"type": "text", "align": "left", "baseline": "middle", "dx": 7, "dy": 6, "font": "Liberation Sans", "fontSize": 11, "color": "white"},
"encoding": {
"x": {"datum": {"year":2025,"month":3,"date":29,"hours":11,"utc":true}, "type": "temporal", "scale": {"domain": [{"year":2025,"month":3,"date":29,"hours":11,"utc":true},{"year":2026,"month":4,"date":1,"hours":10,"utc":true}], "nice": false}},
"y": {"field": "hi", "type": "quantitative", "axis": null, "scale": {"domain": [0.003949, 0.025939], "nice": false, "zero": false}},
"text": {"field": "a"}
}
},
{
"data": {"name": "tags"},
"mark": {"type": "text", "align": "left", "baseline": "middle", "dx": 45, "dy": 6, "font": "Liberation Sans", "fontSize": 11, "color": "white"},
"encoding": {
"x": {"datum": {"year":2025,"month":3,"date":29,"hours":11,"utc":true}, "type": "temporal", "scale": {"domain": [{"year":2025,"month":3,"date":29,"hours":11,"utc":true},{"year":2026,"month":4,"date":1,"hours":10,"utc":true}], "nice": false}},
"y": {"field": "hi", "type": "quantitative", "axis": null, "scale": {"domain": [0.003949, 0.025939], "nice": false, "zero": false}},
"text": {"field": "b"}
}
},
{
"data": {"name": "keyLabels"},
"mark": {"type": "text", "align": "left", "baseline": "alphabetic", "dx": 2, "dy": -2, "font": "Liberation Sans", "fontSize": 14, "fontWeight": "bold", "color": "#000"},
"encoding": {
"x": {"datum": {"year":2025,"month":3,"date":29,"hours":11,"utc":true}, "type": "temporal", "scale": {"domain": [{"year":2025,"month":3,"date":29,"hours":11,"utc":true},{"year":2026,"month":4,"date":1,"hours":10,"utc":true}], "nice": false}},
"y": {"field": "p", "type": "quantitative", "axis": null, "scale": {"domain": [0.003949, 0.025939], "nice": false, "zero": false}},
"text": {"field": "t"}
}
},
{
"data": {"name": "lastTag"},
"mark": {"type": "rect", "color": "#2e9e6e"},
"encoding": {
"x": {"datum": {"year":2026,"month":4,"date":1,"hours":10,"utc":true}, "type": "temporal", "scale": {"domain": [{"year":2025,"month":3,"date":29,"hours":11,"utc":true},{"year":2026,"month":4,"date":1,"hours":10,"utc":true}], "nice": false}},
"x2": {"datum": {"year":2026,"month":4,"date":14,"hours":18,"utc":true}},
"y": {"field": "lo", "type": "quantitative", "axis": null, "scale": {"domain": [0.003949, 0.025939], "nice": false, "zero": false}},
"y2": {"field": "hi"}
}
},
{
"data": {"name": "lastTag"},
"mark": {"type": "text", "align": "left", "baseline": "middle", "dx": 5, "dy": -8, "font": "Liberation Sans", "fontSize": 12, "color": "white"},
"encoding": {
"x": {"datum": {"year":2026,"month":4,"date":1,"hours":10,"utc":true}, "type": "temporal", "scale": {"domain": [{"year":2025,"month":3,"date":29,"hours":11,"utc":true},{"year":2026,"month":4,"date":1,"hours":10,"utc":true}], "nice": false}},
"y": {"field": "lo", "type": "quantitative", "axis": null, "scale": {"domain": [0.003949, 0.025939], "nice": false, "zero": false}},
"text": {"field": "t"}
}
},
{
"data": {"values": [{"t": "SMA (100)"}]},
"mark": {"type": "text", "align": "left", "baseline": "middle", "font": "Roboto", "fontSize": 10.5, "color": "#8cc4f2"},
"encoding": {
"x": {"datum": {"year":2025,"month":4,"date":2,"utc":true}, "type": "temporal", "scale": {"domain": [{"year":2025,"month":3,"date":29,"hours":11,"utc":true},{"year":2026,"month":4,"date":1,"hours":10,"utc":true}], "nice": false}},
"y": {"datum": 0.02549, "type": "quantitative", "axis": null, "scale": {"domain": [0.003949, 0.025939], "nice": false, "zero": false}},
"text": {"field": "t"}
}
},
{
"data": {"values": [{"t": "BOLL (20)"}]},
"mark": {"type": "text", "align": "left", "baseline": "middle", "font": "Roboto", "fontSize": 10.5, "color": "#d0d0d0"},
"encoding": {
"x": {"datum": {"year":2025,"month":4,"date":17,"utc":true}, "type": "temporal", "scale": {"domain": [{"year":2025,"month":3,"date":29,"hours":11,"utc":true},{"year":2026,"month":4,"date":1,"hours":10,"utc":true}], "nice": false}},
"y": {"datum": 0.02549, "type": "quantitative", "axis": null, "scale": {"domain": [0.003949, 0.025939], "nice": false, "zero": false}},
"text": {"field": "t"}
}
}
]
}
],
"resolve": {"scale": {"x": "independent", "y": "independent"}, "axis": {"x": "independent", "y": "independent"}}
}
